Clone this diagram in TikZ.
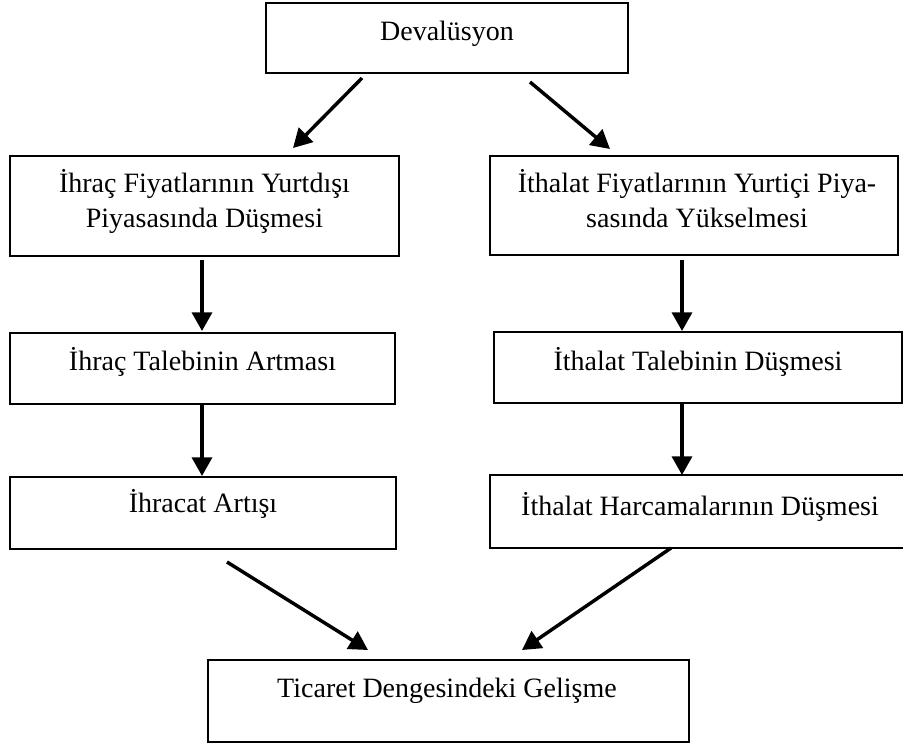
\documentclass[tikz,border=0pt]{standalone}
\usepackage{fontspec}
\setmainfont{Liberation Serif}
\usetikzlibrary{arrows.meta}
\begin{document}
\begin{tikzpicture}[x=0.75pt,y=-0.75pt,
  box/.style={draw=black,line width=1.6pt,rectangle,inner sep=0pt},
  lbl/.style={anchor=base,inner sep=0pt,align=center,font=\fontsize{21}{26}\selectfont},
  arr/.style={line width=2.6pt,-{Triangle[length=14pt,width=15pt]}}]
\useasboundingbox (0,0) rectangle (903,747);
% boxes (pixel coordinates)
\node[box,minimum width=362*0.75pt,minimum height=70*0.75pt] (dev) at (447,38) {};
\node[box,minimum width=389*0.75pt,minimum height=100*0.75pt] (l1) at (204.5,206) {};
\node[box,minimum width=408*0.75pt,minimum height=99*0.75pt] (r1) at (694,205.5) {};
\node[box,minimum width=385*0.75pt,minimum height=71*0.75pt] (l2) at (202.5,368.5) {};
\node[box,minimum width=408*0.75pt,minimum height=71*0.75pt] (r2) at (698,367.5) {};
\node[box,minimum width=386*0.75pt,minimum height=72*0.75pt] (l3) at (203,513) {};
\node[box,minimum width=420*0.75pt,minimum height=73*0.75pt] (r3) at (700,511.5) {};
\node[box,minimum width=481*0.75pt,minimum height=82*0.75pt] (b) at (448.5,701) {};
% texts (multi-line: base = last line)
\node[lbl] (tdev) at (447,40) {Devalüsyon};
\node[lbl] (tl1) at (204.5,227) {İhraç Fiyatlarının Yurtdışı\\Piyasasında Düşmesi};
\node[lbl] (tr1) at (697,227) {İthalat Fiyatlarının Yurtiçi Piya-\\sasında Yükselmesi};
\node[lbl] (tl2) at (202.5,370) {İhraç Talebinin Artması};
\node[lbl] (tr2) at (698,370) {İthalat Talebinin Düşmesi};
\node[lbl] (tl3) at (203,512) {İhracat Artışı};
\node[lbl] (tr3) at (700,515) {İthalat Harcamalarının Düşmesi};
\node[lbl] (tb) at (447,697) {Ticaret Dengesindeki Gelişme};
% connector ends
\coordinate (a1s) at (362,78);  \coordinate (a1e) at (293,148);
\coordinate (a2s) at (530,82);  \coordinate (a2e) at (610,149);
\coordinate (a3s) at (202,260); \coordinate (a3e) at (202,331);
\coordinate (a4s) at (682,260); \coordinate (a4e) at (682,331);
\coordinate (a5s) at (202,405); \coordinate (a5e) at (202,476);
\coordinate (a6s) at (682,404); \coordinate (a6e) at (682,475);
\coordinate (a7s) at (227,562); \coordinate (a7e) at (368,650);
\coordinate (a8s) at (671,548); \coordinate (a8e) at (522,650);
\draw[arr] (a1s) -- (a1e);
\draw[arr] (a2s) -- (a2e);
\draw[arr] (a3s) -- (a3e);
\draw[arr] (a4s) -- (a4e);
\draw[arr] (a5s) -- (a5e);
\draw[arr] (a6s) -- (a6e);
\draw[arr] (a7s) -- (a7e);
\draw[arr] (a8s) -- (a8e);
\end{tikzpicture}
\end{document}
